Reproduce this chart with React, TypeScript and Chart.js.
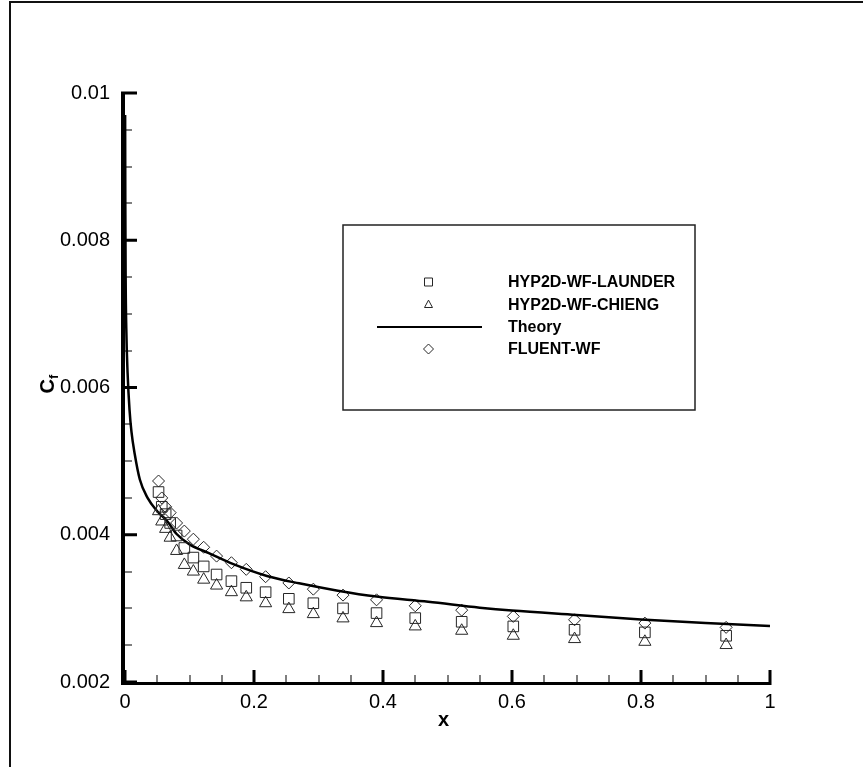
import React, { useEffect, useRef } from 'react';
import { Chart, registerables } from 'chart.js';

Chart.register(...registerables);

const W = 863;
const H = 767;

// Stream-wise stations of the computed skin-friction samples
const stationX = [0.052, 0.057, 0.063, 0.07, 0.08, 0.092, 0.106, 0.122, 0.142, 0.165, 0.188, 0.218, 0.254, 0.292, 0.338, 0.39, 0.45, 0.522, 0.602, 0.697, 0.806, 0.932];

// HYP2D with Launder wall functions
const launderCf = [0.00458, 0.00438, 0.00428, 0.00416, 0.00399, 0.00382, 0.00369, 0.00357, 0.00346, 0.00337, 0.00328, 0.00322, 0.00313, 0.00307, 0.0030, 0.002936, 0.002868, 0.002818, 0.002755, 0.002709, 0.002674, 0.002628];

// HYP2D with Chieng wall functions
const chiengCf = [0.00432, 0.00418, 0.00408, 0.00396, 0.00378, 0.00359, 0.0035, 0.00339, 0.00331, 0.00322, 0.00315, 0.00307, 0.00299, 0.002922, 0.002864, 0.0028, 0.002755, 0.002696, 0.002628, 0.002583, 0.002546, 0.002502];

// FLUENT with standard wall functions
const fluentCf = [0.00473, 0.0045, 0.00438, 0.0043, 0.00416, 0.00405, 0.00394, 0.00383, 0.00371, 0.00362, 0.00353, 0.00343, 0.003345, 0.003261, 0.00318, 0.003116, 0.003035, 0.002976, 0.002891, 0.002845, 0.0028, 0.002742];

// Flat-plate theory curve
const theoryX = [0.0002, 0.0005, 0.001, 0.002, 0.004, 0.007, 0.01, 0.015, 0.023, 0.035, 0.05, 0.065, 0.08, 0.1, 0.13, 0.168, 0.22, 0.27, 0.33, 0.39, 0.47, 0.55, 0.6, 0.7, 0.8, 0.9, 1.0];
const theoryCf = [0.0097, 0.0085, 0.0075, 0.0068, 0.0062, 0.0057, 0.0054, 0.0051, 0.00475, 0.0045, 0.00432, 0.00419, 0.00401, 0.00387, 0.00375, 0.0036, 0.00344, 0.00334, 0.00324, 0.00316, 0.00309, 0.00301, 0.00297, 0.00291, 0.00285, 0.0028, 0.00276];

const xTickValues = [0, 0.2, 0.4, 0.6, 0.8, 1];
const xTickLabels = ['0', '0.2', '0.4', '0.6', '0.8', '1'];
const yTickValues = [0.002, 0.004, 0.006, 0.008, 0.01];
const yTickLabels = ['0.002', '0.004', '0.006', '0.008', '0.01'];

const seriesNames = ['HYP2D-WF-LAUNDER', 'HYP2D-WF-CHIENG', 'Theory', 'FLUENT-WF'];

const FONT = '"Liberation Sans", Arial, Helvetica, sans-serif';
const INK = '#000';
const MARK = '#262626';

function pts(xs: number[], ys: number[]) {
  return xs.map((x, i) => ({ x, y: ys[i] }));
}

function drawSymbol(ctx: CanvasRenderingContext2D, kind: string, cx: number, cy: number, r: number) {
  ctx.beginPath();
  if (kind === 'rect') {
    ctx.rect(cx - r, cy - r, 2 * r, 2 * r);
  } else if (kind === 'triangle') {
    ctx.moveTo(cx, cy - r * 1.1);
    ctx.lineTo(cx + r, cy + r * 0.75);
    ctx.lineTo(cx - r, cy + r * 0.75);
    ctx.closePath();
  } else {
    ctx.moveTo(cx, cy - r);
    ctx.lineTo(cx + r, cy);
    ctx.lineTo(cx, cy + r);
    ctx.lineTo(cx - r, cy);
    ctx.closePath();
  }
  ctx.stroke();
}

const decorations = {
  id: 'plotDecorations',
  afterDraw(chart: any) {
    const { ctx, chartArea: a, scales } = chart;
    const xs = scales.x;
    const ys = scales.y;
    ctx.save();

    // page frame
    ctx.fillStyle = '#111';
    ctx.fillRect(9, 1, W - 9, 2);
    ctx.fillRect(9, 1, 2, H - 1);

    // axis lines, drawn just outside the plotting area
    ctx.fillStyle = INK;
    ctx.fillRect(a.left - 4, a.top - 1.5, 4, a.bottom - a.top + 4.5);
    ctx.fillRect(a.left - 4, a.bottom, a.right - a.left + 5.5, 3);

    // inward major ticks
    xTickValues.forEach((v) => {
      const p = xs.getPixelForValue(v);
      ctx.fillRect(p - 1.5, a.bottom - 12, 3, 12);
    });
    yTickValues.forEach((v) => {
      const p = ys.getPixelForValue(v);
      ctx.fillRect(a.left, p - 1.5, 12, 3);
    });
    // inward minor ticks
    for (let k = 1; k < 20; k++) {
      if (k % 4 === 0) continue;
      const p = Math.round(xs.getPixelForValue(k * 0.05));
      ctx.fillRect(p - 0.5, a.bottom - 7, 1, 7);
    }
    for (let k = 1; k < 16; k++) {
      if (k % 4 === 0) continue;
      const p = Math.round(ys.getPixelForValue(0.002 + k * 0.0005));
      ctx.fillRect(a.left, p - 0.5, 7, 1);
    }

    // axis titles
    ctx.fillStyle = INK;
    ctx.textAlign = 'center';
    ctx.textBaseline = 'middle';
    ctx.font = `bold 20px ${FONT}`;
    ctx.fillText('x', (a.left + a.right) / 2 - 4, 720);

    ctx.save();
    ctx.translate(47, 384);
    ctx.rotate(-Math.PI / 2);
    ctx.textAlign = 'left';
    ctx.textBaseline = 'alphabetic';
    ctx.font = `bold 20px ${FONT}`;
    const cw = ctx.measureText('C').width;
    ctx.font = `bold 13px ${FONT}`;
    const fw = ctx.measureText('f').width;
    const start = -(cw + fw) / 2;
    ctx.font = `bold 20px ${FONT}`;
    ctx.fillText('C', start, 7);
    ctx.font = `bold 13px ${FONT}`;
    ctx.fillText('f', start + cw, 11);
    ctx.restore();

    // legend
    const box = { l: 343, t: 225, r: 695, b: 410 };
    ctx.strokeStyle = '#222';
    ctx.lineWidth = 1.5;
    ctx.strokeRect(box.l, box.t, box.r - box.l, box.b - box.t);
    const rows = [282, 304.5, 327, 349];
    const kinds = ['rect', 'triangle', 'line', 'rectRot'];
    ctx.font = `bold 16px ${FONT}`;
    ctx.textAlign = 'left';
    ctx.textBaseline = 'middle';
    rows.forEach((ry, i) => {
      ctx.strokeStyle = MARK;
      ctx.lineWidth = 1;
      if (kinds[i] === 'line') {
        ctx.strokeStyle = INK;
        ctx.lineWidth = 2.2;
        ctx.beginPath();
        ctx.moveTo(377, ry);
        ctx.lineTo(482, ry);
        ctx.stroke();
      } else {
        drawSymbol(ctx, kinds[i], 428.5, ry, kinds[i] === 'rectRot' ? 5 : 4);
      }
      ctx.fillStyle = INK;
      ctx.fillText(seriesNames[i], 508, ry + 1);
    });

    ctx.restore();
  },
};

export default function App() {
  const ref = useRef<HTMLCanvasElement | null>(null);

  useEffect(() => {
    const canvas = ref.current;
    if (!canvas) return;
    const markerBase = {
      showLine: false,
      borderColor: MARK,
      backgroundColor: 'rgba(0,0,0,0)',
      borderWidth: 1,
    };
    const chart = new Chart(canvas, {
      type: 'scatter',
      data: {
        datasets: [
          { ...markerBase, label: seriesNames[0], data: pts(stationX, launderCf), pointStyle: 'rect', pointRadius: 7.5 },
          { ...markerBase, label: seriesNames[1], data: pts(stationX, chiengCf), pointStyle: 'triangle', pointRadius: 7 },
          {
            label: seriesNames[2],
            data: pts(theoryX, theoryCf),
            showLine: true,
            pointRadius: 0,
            borderColor: INK,
            borderWidth: 2.5,
            cubicInterpolationMode: 'monotone',
          },
          { ...markerBase, label: seriesNames[3], data: pts(stationX, fluentCf), pointStyle: 'rectRot', pointRadius: 6 },
        ],
      } as any,
      options: {
        animation: false,
        responsive: false,
        events: [],
        layout: { padding: { left: 0, top: 93, right: W - 770, bottom: 0 } },
        plugins: { legend: { display: false }, tooltip: { enabled: false } },
        scales: {
          x: {
            type: 'linear',
            min: 0,
            max: 1,
            afterBuildTicks: (s: any) => {
              s.ticks = xTickValues.map((value) => ({ value }));
            },
            afterFit: (s: any) => {
              s.height = H - 682;
            },
            grid: { display: false, drawTicks: false },
            border: { display: false },
            ticks: {
              padding: 8,
              color: INK,
              maxRotation: 0,
              autoSkip: false,
              font: { family: FONT, size: 20 },
              callback: (_v: any, i: number) => xTickLabels[i],
            },
          },
          y: {
            type: 'linear',
            min: 0.002,
            max: 0.01,
            afterBuildTicks: (s: any) => {
              s.ticks = yTickValues.map((value) => ({ value }));
            },
            afterFit: (s: any) => {
              s.width = 125;
            },
            grid: { display: false, drawTicks: false },
            border: { display: false },
            ticks: {
              padding: 15,
              color: INK,
              autoSkip: false,
              font: { family: FONT, size: 20 },
              callback: (_v: any, i: number) => yTickLabels[i],
            },
          },
        },
      } as any,
      plugins: [decorations],
    });
    return () => chart.destroy();
  }, []);

  return (
    <div style={{ position: 'fixed', left: 0, top: 0, width: W, height: H, background: '#fff' }}>
      <canvas ref={ref} width={W} height={H} style={{ display: 'block', width: W, height: H }} />
    </div>
  );
}
